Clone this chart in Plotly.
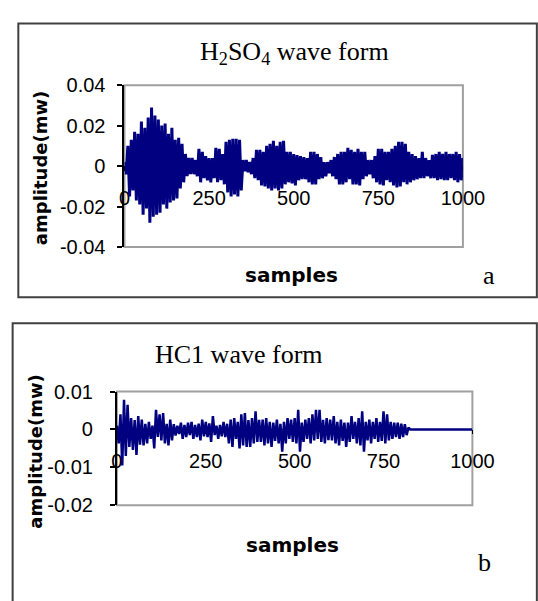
import plotly.graph_objects as go

# sample index (every 5th sample)
samples = list(range(0, 1001, 5))

# H2SO4 wave form, amplitude (mw)
h2so4_amp = [
    0.002, -0.004, 0.010, -0.015, 0.013, -0.012, 0.017, -0.017, 0.016, -0.019,
    0.022, -0.024, 0.019, -0.021, 0.024, -0.028, 0.029, -0.025, 0.025, -0.024,
    0.023, -0.023, 0.020, -0.019, 0.021, -0.021, 0.016, -0.018, 0.019, -0.017,
    0.013, -0.016, 0.014, -0.011, 0.011, -0.008, 0.006, -0.005, 0.004, -0.004,
    0.004, -0.004, 0.003, -0.005, 0.0085, -0.008, 0.007, -0.006, 0.005, -0.007,
    0.004, -0.008, 0.004, -0.006, 0.009, -0.008, 0.0085, -0.007, 0.006, -0.009,
    0.012, -0.013, 0.013, -0.015, 0.0135, -0.014, 0.0135, -0.015, 0.013, -0.012,
    0.003, -0.0025, 0.003, -0.003, 0.002, -0.004, 0.004, -0.006, 0.008, -0.007,
    0.008, -0.0095, 0.007, -0.010, 0.010, -0.011, 0.011, -0.012, 0.0125, -0.011,
    0.010, -0.012, 0.012, -0.011, 0.0125, -0.009, 0.007, -0.008, 0.007, -0.0085,
    0.006, -0.0095, 0.0055, -0.007, 0.005, -0.0065, 0.0045, -0.0065, 0.004, -0.008,
    0.007, -0.009, 0.007, -0.009, 0.006, -0.0065, 0.0045, -0.006, 0.002, -0.005,
    0.002, -0.0035, 0.003, -0.005, 0.0045, -0.0065, 0.006, -0.009, 0.007, -0.009,
    0.007, -0.008, 0.009, -0.0065, 0.008, -0.009, 0.007, -0.009, 0.0085, -0.0095,
    0.007, -0.0065, 0.007, -0.005, 0.003, -0.004, 0.003, -0.006, 0.005, -0.008,
    0.0085, -0.009, 0.0085, -0.0095, 0.007, -0.007, 0.007, -0.008, 0.0085, -0.0095,
    0.010, -0.0105, 0.012, -0.010, 0.012, -0.008, 0.011, -0.009, 0.007, -0.008,
    0.006, -0.007, 0.005, -0.0065, 0.004, -0.006, 0.007, -0.006, 0.004, -0.005,
    0.003, -0.006, 0.0055, -0.006, 0.006, -0.007, 0.007, -0.0065, 0.006, -0.007,
    0.007, -0.007, 0.006, -0.006, 0.006, -0.007, 0.007, -0.008, 0.006, -0.007,
    0.004,
]

# HCl wave form, amplitude (mw); the signal stops near sample 820
hcl_amp = [
    0.001, -0.0037, 0.004, -0.0095, 0.0078, -0.007, 0.0065, -0.0046, 0.003, -0.0054,
    0.0025, -0.0067, 0.0035, -0.004, 0.0026, -0.0042, 0.0015, -0.0037, 0.002, -0.0025,
    0.001, -0.005, 0.0052, -0.002, 0.004, -0.0029, 0.0043, -0.0037, 0.0015, -0.0042,
    0.0026, -0.0029, 0.0014, -0.0016, 0.001, -0.0012, 0.0018, -0.0025, 0.0012, -0.002,
    0.0018, -0.0015, 0.002, -0.0025, 0.0012, -0.002, 0.0015, -0.0029, 0.0026, -0.0018,
    0.002, -0.002, 0.0016, -0.0033, 0.0035, -0.0015, 0.001, -0.0025, 0.0012, -0.0018,
    0.002, -0.002, 0.0015, -0.0037, 0.0026, -0.0046, 0.003, -0.0025, 0.002, -0.005,
    0.004, -0.0042, 0.0043, -0.0046, 0.0025, -0.0046, 0.003, -0.0037, 0.0048, -0.0033,
    0.0025, -0.0033, 0.0026, -0.0042, 0.003, -0.0037, 0.002, -0.0046, 0.0018, -0.003,
    0.0026, -0.0037, 0.0015, -0.0059, 0.002, -0.0037, 0.003, -0.0025, 0.0026, -0.0033,
    0.003, -0.0037, 0.0052, -0.0059, 0.0018, -0.0033, 0.0026, -0.0025, 0.003, -0.0037,
    0.004, -0.0029, 0.0052, -0.0025, 0.0052, -0.0033, 0.0025, -0.0037, 0.003, -0.0028,
    0.0026, -0.0029, 0.0035, -0.0037, 0.002, -0.0042, 0.0026, -0.003, 0.0018, -0.0046,
    0.0018, -0.0033, 0.0035, -0.0025, 0.002, -0.0037, 0.003, -0.0042, 0.0048, -0.0059,
    0.002, -0.0029, 0.0026, -0.0037, 0.002, -0.0025, 0.003, -0.0033, 0.002, -0.003,
    0.0048, -0.0037, 0.004, -0.0029, 0.002, -0.0025, 0.0018, -0.002, 0.0018, -0.0025,
    0.0015, -0.002, 0.0014, -0.0015, 0.0005, 0, 0, 0, 0, 0,
    0, 0, 0, 0, 0, 0, 0, 0, 0, 0,
    0, 0, 0, 0, 0, 0, 0, 0, 0, 0,
    0, 0, 0, 0, 0, 0, 0, 0, 0, 0,
    0,
]

x_ticks = [0, 250, 500, 750, 1000]
x_ticktext = ["0", "250", "500", "750", "1000"]
ya_ticks = [0.04, 0.02, 0, -0.02, -0.04]
ya_ticktext = ["0.04", "0.02", "0", "-0.02", "-0.04"]
yb_ticks = [0.01, 0, -0.01, -0.02]
yb_ticktext = ["0.01", "0", "-0.01", "-0.02"]

W, H = 538, 601
NAVY = "#000080"
TICK_FONT = dict(family="Liberation Sans, Arial", size=20, color="black")
SERIF = dict(family="Liberation Serif, Times New Roman", size=26, color="black")
BOLD_Y = dict(family="DejaVu Sans", size=18, color="black")
BOLD_X = dict(family="DejaVu Sans", size=20, color="black")


def px_x(v):
    return v / W


def px_y(v):
    return 1 - v / H


# plot areas in pixels: left, right, top, bottom
box_a = (125, 482, 77, 245)
box_b = (117, 492, 395, 513)

fig = go.Figure()
fig.add_trace(go.Scatter(x=samples, y=h2so4_amp, mode="lines",
                         line=dict(color=NAVY, width=3, simplify=False),
                         xaxis="x", yaxis="y", hoverinfo="skip"))
fig.add_trace(go.Scatter(x=samples, y=hcl_amp, mode="lines",
                         line=dict(color=NAVY, width=2.5, simplify=False),
                         xaxis="x2", yaxis="y2", hoverinfo="skip"))


def x_axis(box, yaxis_dom, zero_frac):
    return dict(
        domain=[px_x(box[0]), px_x(box[1])], range=[0, 1000],
        tickvals=x_ticks, ticktext=x_ticktext, tickfont=TICK_FONT,
        ticks="outside", ticklen=4, tickcolor="black",
        showline=True, linecolor="black", linewidth=1,
        showgrid=False, zeroline=False, layer="below traces",
        anchor="free", position=yaxis_dom[0] + (yaxis_dom[1] - yaxis_dom[0]) * zero_frac,
        ticklabelstandoff=10,
    )


def y_axis(box, rng, vals, text, anchor_name, standoff):
    return dict(
        domain=[px_y(box[3]), px_y(box[2])], range=rng,
        tickvals=vals, ticktext=text, tickfont=TICK_FONT,
        ticks="outside", ticklen=5, tickcolor="black", tickwidth=1.5,
        showline=True, linecolor="black", linewidth=2,
        showgrid=False, zeroline=False, anchor=anchor_name,
        ticklabelstandoff=standoff,
    )


ya = y_axis(box_a, [-0.04, 0.04], ya_ticks, ya_ticktext, "x", 8)
yb = y_axis(box_b, [-0.02, 0.01], yb_ticks, yb_ticktext, "x2", 13)

fig.update_layout(
    width=W, height=H,
    margin=dict(l=0, r=0, t=0, b=0),
    paper_bgcolor="white", plot_bgcolor="white",
    showlegend=False,
    xaxis=x_axis(box_a, ya["domain"], 0.5),
    yaxis=ya,
    xaxis2=x_axis(box_b, yb["domain"], 2 / 3),
    yaxis2=yb,
)

# grey plot frames and outer panel borders
for xr, yr in (("x", "y"), ("x2", "y2")):
    fig.add_shape(type="rect", xref=f"{xr} domain", yref=f"{yr} domain",
                  x0=0, x1=1, y0=0, y1=1, layer="below",
                  line=dict(color="#a0a0a0", width=2))
fig.add_shape(type="rect", xref="paper", yref="paper",
              x0=px_x(13), x1=px_x(560), y0=px_y(297), y1=px_y(13),
              line=dict(color="#404040", width=2))
fig.add_shape(type="rect", xref="paper", yref="paper",
              x0=px_x(7), x1=px_x(560), y0=px_y(640), y1=px_y(324),
              line=dict(color="#404040", width=2))

notes = [
    ("H<sub>2</sub>SO<sub>4</sub> wave form", 304, 44, SERIF, 0),
    ("HC1 wave form", 246, 357, SERIF, 0),
    ("<b>samples</b>", 301, 274, BOLD_X, 0),
    ("<b>samples</b>", 302, 554, BOLD_X, 0),
    ("<b>amplitude(mw)</b>", 36, 163, BOLD_Y, -90),
    ("<b>amplitude(mw)</b>", 31, 457, BOLD_Y, -90),
    ("a", 510, 275, SERIF, 0),
    ("b", 505, 572, SERIF, 0),
]
for text, x, y, font, ang in notes:
    fig.add_annotation(text=text, x=px_x(x), y=px_y(y), xref="paper", yref="paper",
                       showarrow=False, font=font, textangle=ang,
                       xanchor="center", yanchor="middle")

fig.write_html("out.html", config={"displayModeBar": False},
               post_script="document.body.style.margin='0';")
